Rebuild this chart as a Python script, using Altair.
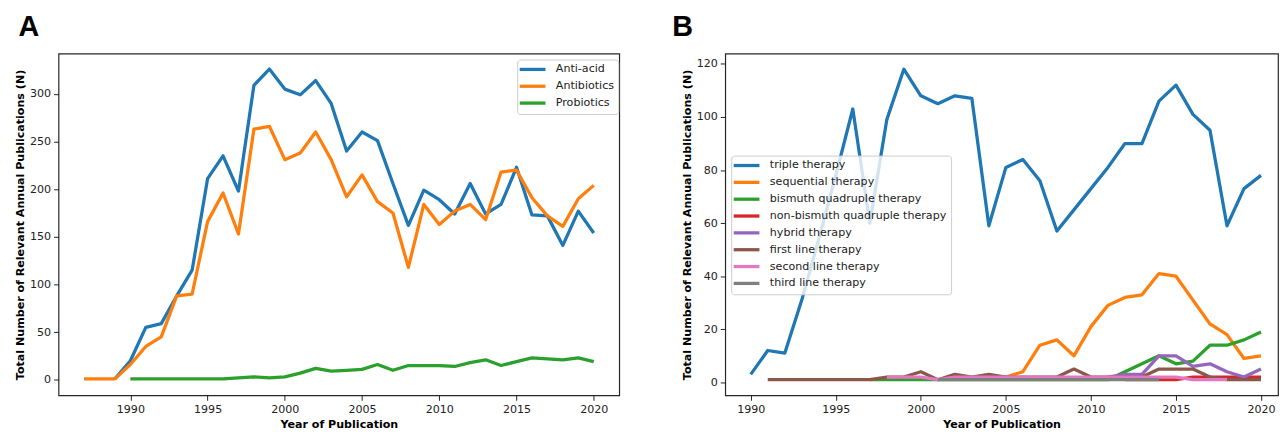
import altair as alt
import pandas as pd

# ---------------- Panel A data ----------------
series_a = ["Anti-acid", "Antibiotics", "Probiotics"]
colors_a = ["#1f77b4", "#ff7f0e", "#2ca02c"]
anti_acid_start = 1989
anti_acid = [1, 20, 55, 59, 88, 115, 211, 235, 198, 309, 326, 305, 299, 314, 290, 240,
             260, 251, 206, 162, 199, 189, 174, 206, 174, 184, 223, 173, 172, 141, 177, 154]
antibiotics_start = 1987
antibiotics = [1, 1, 1, 16, 35, 45, 88, 90, 166, 196, 153, 263, 266, 231, 238, 260, 231,
               192, 215, 187, 175, 118, 184, 163, 177, 184, 168, 218, 220, 191, 172, 161,
               190, 204]
probiotics_start = 1990
probiotics = [1, 1, 1, 1, 1, 1, 1, 2, 3, 2, 3, 7, 12, 9, 10, 11, 16, 10, 15, 15, 15, 14,
              18, 21, 15, 19, 23, 22, 21, 23, 19]

# ---------------- Panel B data ----------------
series_b = ["triple therapy", "sequential therapy", "bismuth quadruple therapy",
            "non-bismuth quadruple therapy", "hybrid therapy", "first line therapy",
            "second line therapy", "third line therapy"]
colors_b = ["#1f77b4", "#ff7f0e", "#2ca02c", "#d62728", "#9467bd", "#8c564b",
            "#e377c2", "#7f7f7f"]
triple_start = 1990
triple = [3, 12, 11, 31, 54, 78, 103, 60, 99, 118, 108, 105, 108, 107, 59, 81, 84, 76, 57,
          65, 73, 81, 90, 90, 106, 112, 101, 95, 59, 73, 78]
sequential_start = 2004
sequential = [2, 2, 4, 14, 16, 10, 21, 29, 32, 33, 41, 40, 31, 22, 18, 9, 10]
bismuth_start = 1997
bismuth = [1, 1, 1, 1, 1, 1, 1, 1, 1, 1, 1, 1, 1, 1, 1, 4, 7, 10, 7, 8, 14, 14, 16, 19]
nonbismuth_start = 2012
nonbismuth = [1, 1, 1, 1, 2, 2, 2, 2, 2]
hybrid_start = 2011
hybrid = [2, 3, 3, 10, 10, 6, 7, 4, 2, 5]
first_line_start = 1991
first_line = [1, 1, 1, 1, 1, 1, 1, 2, 2, 4, 1, 3, 2, 3, 2, 2, 2, 2, 5, 2, 2, 2, 2, 5, 5,
              5, 2, 1, 1, 1]
second_line_start = 1998
second_line = [2, 2, 2, 1, 2, 2, 2, 2, 2, 2, 2, 2, 2, 2, 2, 2, 2, 2, 1, 1, 1]
third_line_start = 2001
third_line = [1, 1, 1, 1, 1, 1, 1, 1, 1, 1, 1, 1, 1, 1]

year_ticks = [1990, 1995, 2000, 2005, 2010, 2015, 2020]


def long_df(names, starts, values):
    rows = []
    for name, start, vals in zip(names, starts, values):
        for i, v in enumerate(vals):
            rows.append({"year": start + i, "n": v, "series": name})
    return pd.DataFrame(rows)


df_a = long_df(series_a,
               [anti_acid_start, antibiotics_start, probiotics_start],
               [anti_acid, antibiotics, probiotics])
df_b = long_df(series_b,
               [triple_start, sequential_start, bismuth_start, nonbismuth_start,
                hybrid_start, first_line_start, second_line_start, third_line_start],
               [triple, sequential, bismuth, nonbismuth, hybrid, first_line,
                second_line, third_line])

FONT = "DejaVu Sans"
FS = 11.2


def panel(df, names, colors, xdom, ydom, yvals, width, height, letter, letter_dx,
          leg_x, leg_y):
    legend = alt.Legend(
        title=None, orient="none", legendX=leg_x, legendY=leg_y,
        symbolType="M-1.72,0H4.28", symbolSize=75, symbolStrokeWidth=3.3,
        labelFont=FONT, labelFontSize=FS, labelColor="#222222", labelOffset=23,
        labelLimit=400, padding=4, rowPadding=3, strokeColor="#cccccc",
        fillColor="rgba(255,255,255,0.8)", cornerRadius=3,
    )
    color = alt.Color("series:N", scale=alt.Scale(domain=names, range=colors),
                      legend=legend)
    x = alt.X("year:Q", scale=alt.Scale(domain=xdom, nice=False, zero=False),
              axis=alt.Axis(values=year_ticks, format="d", title="Year of Publication",
                            titlePadding=4))
    y = alt.Y("n:Q", scale=alt.Scale(domain=ydom, nice=False, zero=False),
              axis=alt.Axis(values=yvals, title="Total Number of Relevant Annual Publications (N)",
                            titlePadding=4))
    layers = []
    for s in names:
        layers.append(
            alt.Chart(df).transform_filter(alt.datum.series == s)
            .mark_line(strokeWidth=3.3, clip=True, strokeJoin="round")
            .encode(x=x, y=y, color=color)
        )
    return alt.layer(*layers).properties(
        width=width, height=height,
        title=alt.TitleParams(letter, anchor="start", frame="bounds", fontSize=29,
                              font="Liberation Sans", fontWeight="bold", color="black",
                              dx=letter_dx, offset=12),
    )


chart_a = panel(df_a, series_a, colors_a, [1985.35, 2021.65], [-16.3, 342.3],
                [0, 50, 100, 150, 200, 250, 300], 566, 345, "A", 4, 463, 6)
chart_b = panel(df_b, series_b, colors_b, [1988.5, 2021.0], [-4.9, 123.9],
                [0, 20, 40, 60, 80, 100, 120], 558, 345, "B", -9, 6, 103)

chart = (
    alt.hconcat(chart_a, chart_b, spacing=52)
    .resolve_scale(color="independent")
    .resolve_legend(color="independent")
    .properties(padding={"left": 6, "top": 2, "right": 0, "bottom": 0})
    .configure_axis(
        labelFont=FONT, labelFontSize=FS, labelColor="#222222",
        titleFont=FONT, titleFontSize=FS, titleFontWeight="bold", titleColor="black",
        tickColor="#222222", tickSize=5, tickWidth=1, domain=False, grid=False,
        labelPadding=3,
    )
    .configure_view(stroke="#262626", strokeWidth=1.2)
)

chart.save("out.html", embed_options={"renderer": "svg", "actions": False})
